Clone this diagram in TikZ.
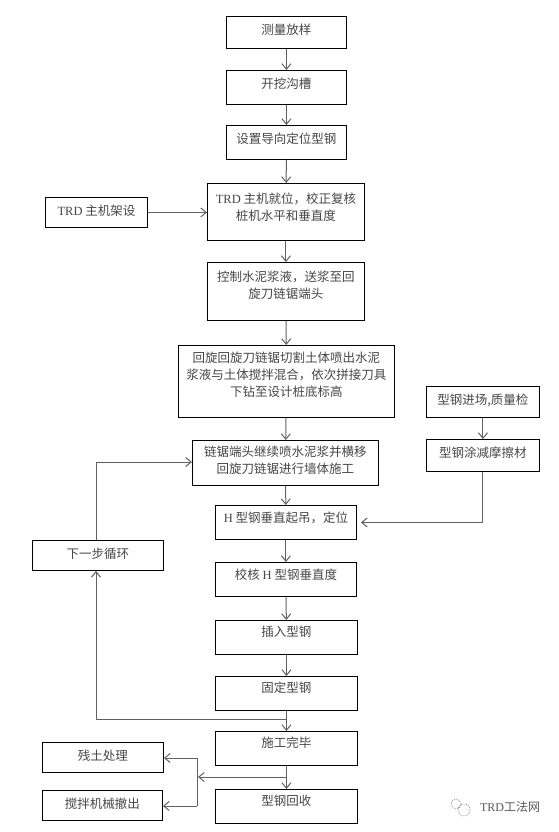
\documentclass[tikz,border=0pt]{standalone}
\usepackage{fontspec}
\setmainfont{Noto Sans CJK SC}
\newfontfamily\latfont{Liberation Serif}
\usetikzlibrary{arrows.meta, positioning}
\newcommand{\dou}{\symbol{"FF0C}}
\tikzset{
  flowbox/.style={draw=black, line width=0.9pt, fill=white, align=center, inner sep=0pt,
    text=black!72, font=\fontsize{12.5}{17}\selectfont},
  flowline/.style={draw=black!62, line width=1pt},
  flowarrow/.style={flowline, -{Straight Barb[length=5.5pt,width=9pt]}},
  lift/.style={text depth=#1pt}
}
\newcommand{\boxat}[7][5]{\node[flowbox, lift=#1, minimum width=#5pt, minimum height=#6pt, anchor=north west] (#2) at (#3,#4) {#7};}
\begin{document}
\begin{tikzpicture}[x=1pt, y=-1pt]
\useasboundingbox (0,0) rectangle (559,832);
% main column
\boxat[7]{survey}{226}{16}{120}{32}{测量放样}
\boxat[9]{trench}{226}{70}{120}{34}{开挖沟槽}
\boxat[9]{guide}{226}{125}{120}{34}{设置导向定位型钢}
\boxat[11]{level}{207}{183}{157}{57}{{\latfont TRD} 主机就位\dou 校正复核\\桩机水平和垂直度}
\boxat[13]{slurry}{207}{262}{157}{58}{控制水泥浆液\dou 送浆至回\\旋刀链锯端头}
\boxat[15]{cut}{178}{345}{216}{72}{回旋回旋刀链锯切割土体喷出水泥\\浆液与土体搅拌混合\dou 依次拼接刀具\\下钻至设计桩底标高}
\boxat[6]{wall}{192}{440}{186}{45}{链锯端头继续喷水泥浆并横移\\回旋刀链锯进行墙体施工}
\boxat[11]{lift}{215}{505}{141}{34}{{\latfont H} 型钢垂直起吊\dou 定位}
\boxat[11]{check}{215}{562}{141}{34}{校核 {\latfont H} 型钢垂直度}
\boxat[13]{insert}{215}{620}{142}{34}{插入型钢}
\boxat[13]{fix}{215}{676}{142}{34}{固定型钢}
\boxat[13]{done}{215}{731}{142}{34}{施工完毕}
\boxat[13]{recover}{215}{789}{142}{34}{型钢回收}
% side boxes
\boxat{rig}{45}{197}{102}{30}{{\latfont TRD} 主机架设}
\boxat{enter}{426}{386}{113}{31}{型钢进场,质量检}
\boxat[7]{coat}{426}{439}{113}{32}{型钢涂减摩擦材}
\boxat{next}{32}{540}{131}{30}{下一步循环}
\boxat{soil}{42}{742}{121}{30}{残土处理}
\boxat{mixer}{42}{790}{120}{30}{搅拌机械撤出}
% main arrows
\foreach \a/\b in {survey/trench, trench/guide, guide/level, level/slurry, slurry/cut, cut/wall, wall/lift, lift/check, check/insert, insert/fix, fix/done, done/recover}
  \draw[flowarrow] (\a) -- (\b);
\draw[flowarrow] (rig) -- (level.west |- rig);
\draw[flowarrow] (enter) -- (coat);
% loop
\coordinate (corner) at (96,719);
\coordinate (back) at (96,462);
\coordinate (joinfix) at (fix.south |- corner);
\draw[flowline] (joinfix) -- (corner);
\draw[flowarrow] (corner) -- (corner |- next.south);
\draw[flowarrow] (back |- next.north) -- (back) -- (back -| wall.west);
\coordinate (liftin) at ([xshift=4pt]lift.east);
\draw[flowarrow] (coat.south) -- (coat.south |- liftin) -- (liftin);
% waste
\coordinate (split) at (198,777);
\coordinate (fork) at (197,758);
\coordinate (forkb) at (197,806);
\draw[flowarrow] (done.south |- split) -- (split);
\draw[flowarrow] (forkb) -- (fork) -- (fork -| soil.east);
\draw[flowarrow] (forkb) -- (forkb -| mixer.east);
% watermark
\draw[black!45, line width=0.6pt, dash pattern=on 1.2pt off 1pt] (456,804) circle (5pt);
\draw[black!45, line width=0.6pt, dash pattern=on 1.2pt off 1pt] (464,810) circle (6pt);
\node[text=black!65, font=\fontsize{12}{14}\selectfont, inner sep=0pt] (mark) at (510,807) {{\latfont TRD}工法网};
\end{tikzpicture}
\end{document}
